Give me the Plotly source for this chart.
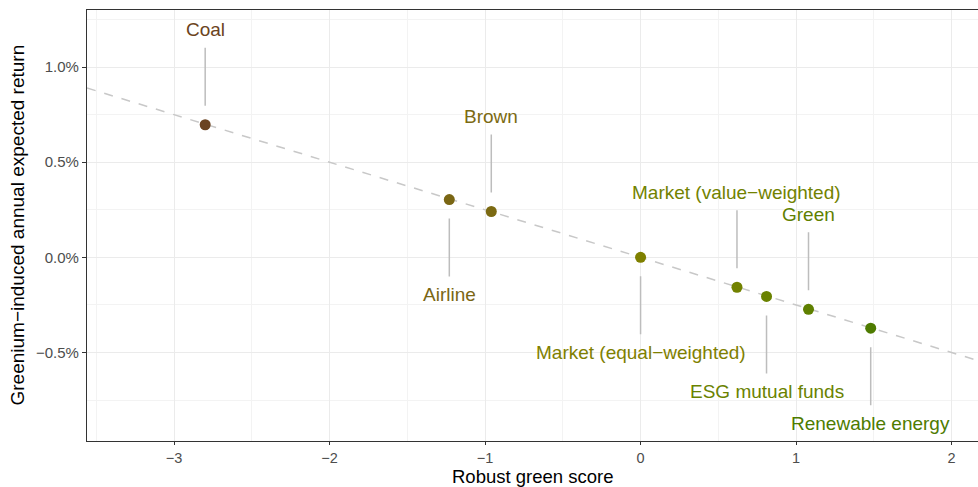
import plotly.graph_objects as go

# ---- data ----
categories = ["Coal", "Airline", "Brown", "Market (equal\u2212weighted)",
              "Market (value\u2212weighted)", "ESG mutual funds", "Green", "Renewable energy"]
green_score = [-2.80, -1.23, -0.96, 0.00, 0.62, 0.81, 1.08, 1.48]
greenium_return = [0.00697, 0.00304, 0.00241, 0.0, -0.00157, -0.00205, -0.00273, -0.00372]
point_colors = ["#6B4321", "#7A6614", "#7C6A12", "#7F8000", "#728200", "#6A8200", "#5F8000", "#4E7B00"]
label_side = [-1, 1, -1, 1, -1, 1, -1, 1]   # -1: label above point, 1: label below
fit_slope = -0.0025

x_ticks = [-3, -2, -1, 0, 1, 2]
y_ticks = [-0.005, 0.0, 0.005, 0.01]
x_range = [-3.56, 2.17]
y_range = [-0.00965, 0.0130]

FONT = "Liberation Sans, Arial, sans-serif"

fig = go.Figure()

# dashed reference line through origin
fig.add_trace(go.Scatter(
    x=x_range, y=[fit_slope * v for v in x_range], mode="lines",
    line=dict(color="#C8C8C8", width=1.5, dash="dash"),
    hoverinfo="skip", showlegend=False))

fig.add_trace(go.Scatter(
    x=green_score, y=greenium_return, mode="markers",
    marker=dict(color=point_colors, size=11),
    text=categories, showlegend=False))

for name, xv, yv, c, side in zip(categories, green_score, greenium_return, point_colors, label_side):
    fig.add_annotation(
        x=xv, y=yv, xref="x", yref="y", text=name,
        showarrow=True, ax=0, ay=95 * side, arrowhead=0, arrowwidth=1.5,
        arrowcolor="#BDBDBD", standoff=19, startstandoff=6,
        font=dict(family=FONT, size=19, color=c))

axis_common = dict(
    showgrid=True, gridcolor="#EBEBEB", gridwidth=1.2, automargin=False,
    zeroline=False, ticks="outside", ticklen=4, tickwidth=1.2, tickcolor="#333333",
    showline=True, linecolor="#333333", linewidth=1.3,
    tickfont=dict(family=FONT, size=15, color="#4D4D4D"),
)

fig.update_xaxes(
    **axis_common, range=x_range, tickvals=x_ticks, mirror=True,
    minor=dict(dtick=0.5, tick0=0, showgrid=True, gridcolor="#F3F3F3", gridwidth=0.8, ticks=""))
fig.update_yaxes(
    **axis_common, range=y_range, tickvals=y_ticks, tickformat=".1%",
    minor=dict(dtick=0.0025, tick0=0, showgrid=True, gridcolor="#F3F3F3", gridwidth=0.8, ticks=""))
fig.update_xaxes(tickfont_size=14.5, ticklen=3)

# axis titles
fig.add_annotation(
    text="Robust green score",
    xref="paper", yref="paper", x=0.5, y=0, xanchor="center", yanchor="bottom",
    yshift=-47, showarrow=False, borderpad=0,
    font=dict(family=FONT, size=18.5, color="#000000"))
fig.add_annotation(
    text="Greenium\u2212induced annual expected return", textangle=-90,
    xref="paper", yref="paper", x=0, y=0.5, xanchor="center", yanchor="middle",
    xshift=-70, showarrow=False,
    font=dict(family=FONT, size=19, color="#000000"))

fig.update_layout(
    width=978, height=487,
    margin=dict(l=87, r=0, t=10, b=46),
    plot_bgcolor="white", paper_bgcolor="white",
    font=dict(family=FONT),
)

fig.write_html("out.html", config={"displayModeBar": False},
               post_script="document.body.style.margin='0';")
